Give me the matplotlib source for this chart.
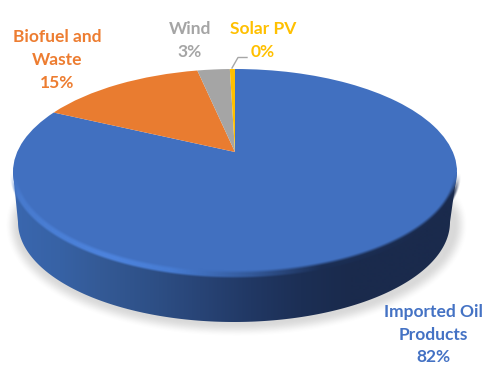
import numpy as np
import matplotlib
matplotlib.use('Agg')
import matplotlib.pyplot as plt
from matplotlib.patches import Polygon
from matplotlib.transforms import Transform

categories = ['Imported Oil\nProducts', 'Biofuel and\nWaste', 'Wind', 'Solar PV']
shares = [82.1, 14.6, 2.85, 0.45]
colors = ['#4170C0', '#E97C30', '#A5A5A5', '#FFC000']
label_colors = ['#4472C4', '#ED7D31', '#A5A5A5', '#FFC000']
label_xy = [(433, 335), (57, 60), (190, 40.5), (263, 40.5)]

W, H = 486, 367

# tilted disc: centre of the pie sits above the middle of the rim ellipse
CX, CY = 235.0, 152.0
AX, BY, K = 217.8, 99.1, 0.194


class TiltedDisc(Transform):
    input_dims = 2
    output_dims = 2
    is_affine = False
    has_inverse = False

    def transform_non_affine(self, values):
        values = np.asarray(values, dtype=float)
        w = 1 + K * values[:, 1]
        return np.column_stack([CX + AX * values[:, 0] / w,
                                CY - BY * values[:, 1] / w])


def smooth(v, lo, hi):
    t = np.clip((v - lo) / (hi - lo), 0, 1)
    return t * t * (3 - 2 * t)


def ellipse_dist(x, y, cx, cy, a, b):
    # approximate signed distance to an ellipse, negative inside
    dx, dy = (x - cx) / a, (y - cy) / b
    r = np.sqrt(dx**2 + dy**2) + 1e-9
    grad = np.sqrt((dx / (a * r))**2 + (dy / (b * r))**2) + 1e-9
    return (r - 1) / grad


fig = plt.figure(figsize=(W / 100, H / 100), dpi=100)
ax = fig.add_axes([0, 0, 1, 1])

wedges, _ = ax.pie(shares, colors=colors, startangle=90, counterclock=False,
                   wedgeprops={'linewidth': 0})
disc = TiltedDisc()
for w in wedges:
    w.set_transform(disc + ax.transData)
    w.set_zorder(2)

X, Y = np.meshgrid(np.arange(W) + 0.5, np.arange(H) + 0.5)
TOP = (235, 172, 222, 103)
LOW = (234, 222, 216, 100)

# soft shadow under the disc
d = ellipse_dist(X, Y, 236, 225, 221, 102)
shadow = np.zeros((H, W, 4))
shadow[..., :3] = 0.4
shadow[..., 3] = 0.25 * (1 - smooth(d, -4, 10)) * smooth(Y, 185, 215)
ax.imshow(shadow, extent=(0, W, H, 0), aspect='auto', zorder=0, interpolation='bilinear')

# side wall, shaded left to right
grad_x = [13, 60, 100, 150, 200, 250, 300, 350, 457]
grad_rgb = np.array([(58, 103, 175), (55, 98, 165), (52, 90, 150), (46, 80, 135),
                     (40, 68, 118), (33, 56, 100), (28, 47, 85), (26, 42, 76),
                     (26, 42, 76)]) / 255
xs = np.arange(W) + 0.5
side = np.stack([np.interp(xs, grad_x, grad_rgb[:, i]) for i in range(3)], axis=-1)[None, :, :]
im = ax.imshow(side, extent=(0, W, H, 0), aspect='auto', zorder=1)
t = np.linspace(np.pi, 0, 200)
wall = np.column_stack([LOW[0] + LOW[2] * np.cos(t), LOW[1] + LOW[3] * np.sin(t)])
wall = np.vstack([(13, 172), wall, (457, 172)])
clip = Polygon(wall, closed=True, transform=ax.transData)
im.set_clip_path(clip)

# bevel along the front rim
bevel_x = [13, 60, 110, 170, 250, 320, 457]
bevel_rgb = np.array([(72, 122, 205), (75, 128, 215), (78, 132, 222), (72, 125, 212),
                      (52, 90, 155), (28, 47, 85), (26, 42, 76)]) / 255
d = ellipse_dist(X, Y, *TOP)
bevel = np.zeros((H, W, 4))
for i in range(3):
    bevel[..., i] = np.interp(X, bevel_x, bevel_rgb[:, i])
bevel[..., 3] = smooth(d, -5.5, -1) * (1 - smooth(d, 0.5, 4)) * smooth(Y, 172, 200)
ax.imshow(bevel, extent=(0, W, H, 0), aspect='auto', zorder=3, interpolation='bilinear')

# value labels
for name, share, col, (lx, ly) in zip(categories, shares, label_colors, label_xy):
    ax.text(lx, ly, f'{name}\n{round(share)}%', color=col, ha='center', va='center',
            family='Lato', weight='bold', fontsize=12.5, linespacing=1.5, zorder=5)

# leader line for the small slice
ax.plot([232, 238, 247], [68, 57.5, 57.5], color='#A6A6A6', lw=1.0, zorder=4)

ax.set_xlim(0, W)
ax.set_ylim(H, 0)
ax.set_aspect('auto')
ax.axis('off')

fig.savefig('out.png', dpi=100, facecolor='white')
